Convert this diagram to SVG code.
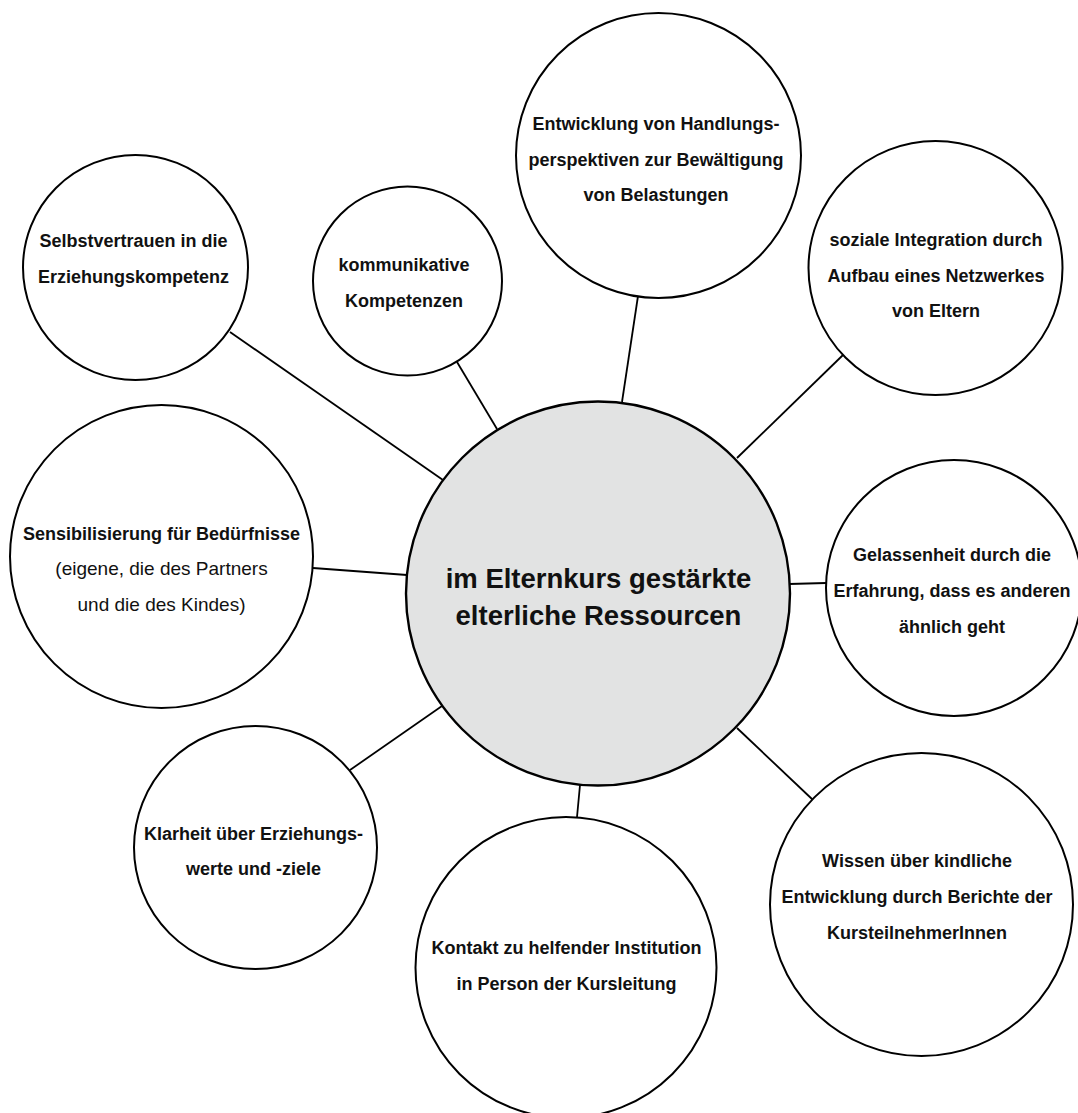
<svg xmlns="http://www.w3.org/2000/svg" width="1078" height="1113" viewBox="0 0 1078 1113">
<style>
.c{fill:#fff;stroke:#000;stroke-width:2}
.m{fill:#e2e3e3;stroke:#000;stroke-width:2.4}
.l{stroke:#000;stroke-width:1.8;fill:none}
text{font-family:"Liberation Sans",Arial,sans-serif;font-size:18px;font-weight:bold;fill:#111;text-anchor:middle}
.r{font-weight:normal;font-size:19px}
.big{font-size:27.5px}
</style>
<rect width="1078" height="1113" fill="#fff"/>
<g id="connectors">
<line class="l" x1="230" y1="332" x2="443" y2="480"/>
<line class="l" x1="457" y1="362" x2="497" y2="429"/>
<line class="l" x1="638" y1="296" x2="622" y2="402"/>
<line class="l" x1="843" y1="355" x2="737" y2="458"/>
<line class="l" x1="313" y1="568" x2="407" y2="575"/>
<line class="l" x1="789" y1="584" x2="826" y2="583"/>
<line class="l" x1="350" y1="770" x2="442" y2="706"/>
<line class="l" x1="580" y1="785" x2="577" y2="817"/>
<line class="l" x1="737" y1="728" x2="813" y2="800"/>
</g>
<g id="center">
<circle class="m" cx="598" cy="593.5" r="192"/>
<text class="big" x="598.5" y="588">im Elternkurs gestärkte</text>
<text class="big" x="598.5" y="625">elterliche Ressourcen</text>
</g>
<g id="selbstvertrauen">
<circle class="c" cx="135.5" cy="267.5" r="112.5"/>
<text x="133.5" y="246.5">Selbstvertrauen in die</text>
<text x="133.5" y="282.5">Erziehungskompetenz</text>
</g>
<g id="kommunikative">
<circle class="c" cx="407.5" cy="281" r="94.5"/>
<text x="404" y="270.5">kommunikative</text>
<text x="404" y="306.5">Kompetenzen</text>
</g>
<g id="entwicklung">
<circle class="c" cx="658.5" cy="155.5" r="142.5"/>
<text x="656" y="130">Entwicklung von Handlungs-</text>
<text x="656" y="165.5">perspektiven zur Bewältigung</text>
<text x="656" y="200.5">von Belastungen</text>
</g>
<g id="soziale">
<circle class="c" cx="935.5" cy="268" r="127"/>
<text x="936" y="246">soziale Integration durch</text>
<text x="936" y="282">Aufbau eines Netzwerkes</text>
<text x="936" y="317">von Eltern</text>
</g>
<g id="sensibilisierung">
<circle class="c" cx="161.5" cy="556.5" r="151.5"/>
<text x="161.5" y="539.5">Sensibilisierung für Bedürfnisse</text>
<text class="r" x="161.5" y="575">(eigene, die des Partners</text>
<text class="r" x="161.5" y="610.5">und die des Kindes)</text>
</g>
<g id="gelassenheit">
<circle class="c" cx="954" cy="588" r="128"/>
<text x="952" y="561">Gelassenheit durch die</text>
<text x="952" y="596.5">Erfahrung, dass es anderen</text>
<text x="952" y="632.5">ähnlich geht</text>
</g>
<g id="klarheit">
<circle class="c" cx="255.5" cy="847.5" r="121.5"/>
<text x="253.5" y="840">Klarheit über Erziehungs-</text>
<text x="253.5" y="875">werte und -ziele</text>
</g>
<g id="kontakt">
<circle class="c" cx="566" cy="967.5" r="150.5"/>
<text x="566.5" y="954">Kontakt zu helfender Institution</text>
<text x="566.5" y="990">in Person der Kursleitung</text>
</g>
<g id="wissen">
<circle class="c" cx="921.5" cy="904.5" r="151.5"/>
<text x="917" y="866.5">Wissen über kindliche</text>
<text x="917" y="903">Entwicklung durch Berichte der</text>
<text x="917" y="939">KursteilnehmerInnen</text>
</g>
</svg>
